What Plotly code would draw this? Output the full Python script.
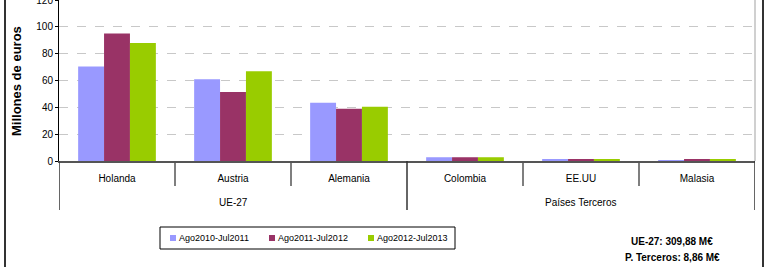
import plotly.graph_objects as go

groups = ["UE-27", "Países Terceros"]
group_sizes = [3, 3]
countries = ["Holanda", "Austria", "Alemania", "Colombia", "EE.UU", "Malasia"]
series_names = ["Ago2010-Jul2011", "Ago2011-Jul2012", "Ago2012-Jul2013"]
v2011 = [70.5, 61.0, 43.5, 2.8, 1.0, 0.3]
v2012 = [95.0, 51.5, 39.0, 2.8, 1.0, 1.0]
v2013 = [88.0, 67.0, 40.5, 2.8, 1.0, 1.0]
colors = ["#9999FF", "#993366", "#99CC00"]
y_ticks = [0, 20, 40, 60, 80, 100, 120]
totals = ["UE-27: 309,88 M€", "P. Terceros: 8,86 M€"]

W, H = 768, 267
L, R, T, B = 59, 13, 0, 106
pw = W - L - R
ph = H - T - B

def px_x(x):
    return (x - L) / pw

def px_y(y):
    return (H - B - y) / ph

font = "Liberation Sans, Arial, sans-serif"

fig = go.Figure()
for name, vals, c in zip(series_names, [v2011, v2012, v2013], colors):
    fig.add_trace(go.Bar(x=countries, y=vals, name=name, showlegend=False,
                         marker=dict(color=c, line=dict(width=0))))

shapes = []
annotations = []

# category separators (short) and group separators (long)
n = len(countries)
group_bounds = [0]
for s in group_sizes:
    group_bounds.append(group_bounds[-1] + s)
for i in range(n + 1):
    long_ = i in group_bounds
    shapes.append(dict(type="line", xref="x", yref="paper", x0=i - 0.5, x1=i - 0.5,
                       y0=0, y1=px_y(210 if long_ else 186),
                       line=dict(color="#333333" if long_ else "#555555", width=1.5)))
# group labels
for gi, g in enumerate(groups):
    xc = (group_bounds[gi] + group_bounds[gi + 1] - 1) / 2
    annotations.append(dict(text=g, xref="x", yref="paper", x=xc, y=px_y(202),
                            showarrow=False, font=dict(size=10), xanchor="center", yanchor="middle"))

# plot right border (light gray)
shapes.append(dict(type="line", xref="paper", yref="paper", x0=1, x1=1, y0=0, y1=1,
                   line=dict(color="#c0c0c0", width=1.5)))
# outer frame verticals
for fx in (5, 763):
    shapes.append(dict(type="line", xref="paper", yref="paper", x0=px_x(fx), x1=px_x(fx),
                       y0=px_y(0), y1=px_y(267), line=dict(color="#333333", width=2)))

# legend (manual)
shapes.append(dict(type="rect", xref="paper", yref="paper", x0=px_x(160), x1=px_x(455),
                   y0=px_y(249), y1=px_y(227), line=dict(color="black", width=1), fillcolor="white"))
leg_x = [170, 269, 368]
for lx, name, c in zip(leg_x, series_names, colors):
    shapes.append(dict(type="rect", xref="paper", yref="paper", x0=px_x(lx), x1=px_x(lx + 6),
                       y0=px_y(241), y1=px_y(235), line=dict(width=0), fillcolor=c))
    annotations.append(dict(text=name, xref="paper", yref="paper", x=px_x(lx + 7), y=px_y(238),
                            showarrow=False, font=dict(size=9), xanchor="left", yanchor="middle"))

# totals
for ty, t in zip([241, 257], totals):
    annotations.append(dict(text="<b>" + t + "</b>", xref="paper", yref="paper", x=px_x(672), y=px_y(ty),
                            showarrow=False, font=dict(size=10), xanchor="center", yanchor="middle"))

# y title
annotations.append(dict(text="<b>Millones de euros</b>", xref="paper", yref="paper", x=px_x(17), y=px_y(81),
                        showarrow=False, textangle=-90, font=dict(size=13), xanchor="center", yanchor="middle"))

fig.update_layout(
    width=W, height=H,
    margin=dict(l=L, r=R, t=T, b=B),
    paper_bgcolor="white", plot_bgcolor="white",
    barmode="group", bargap=0.33, bargroupgap=0,
    font=dict(family=font, size=10, color="black"),
    showlegend=False,
    xaxis=dict(type="category", showline=True, linecolor="#555555", linewidth=1.5,
               ticks="", automargin=False, tickfont=dict(size=10), showgrid=False,
               ticklabelstandoff=7, range=[-0.5, n - 0.5]),
    yaxis=dict(range=[0, 120.05], tickvals=y_ticks, showline=True, linecolor="black", linewidth=1,
               ticks="outside", ticklen=3, tickcolor="black", automargin=False,
               ticklabeloverflow="allow",
               showgrid=True, gridcolor="#c8c8c8", griddash="dash", gridwidth=1,
               zeroline=False, tickfont=dict(size=10)),
    shapes=shapes,
    annotations=annotations,
)

fig.write_html("out.html", config={"displayModeBar": False},
               post_script="document.body.style.margin='0';document.body.style.overflow='hidden';")
